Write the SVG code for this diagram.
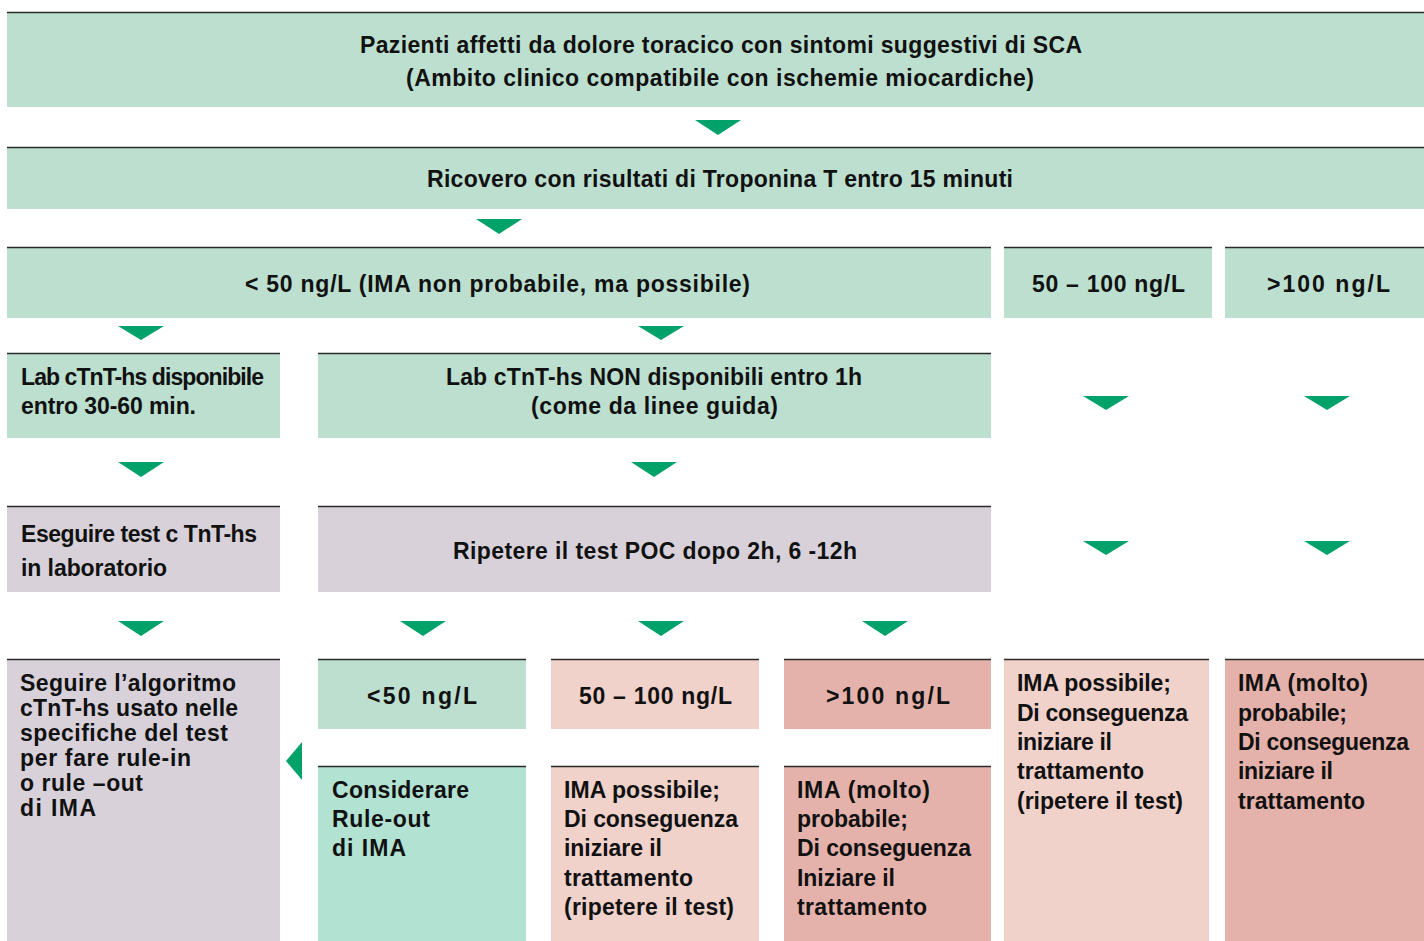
<svg xmlns="http://www.w3.org/2000/svg" width="1424" height="941" viewBox="0 0 1424 941">
<style>
.g{fill:#bcdfcf}.m{fill:#d8d1da}.c{fill:#b2e2d1}.p{fill:#f0d2cb}.r{fill:#e5b2ab}
.tl{stroke:#2a2a2a;stroke-width:1.6}
text{font-family:"Liberation Sans",Arial,sans-serif;font-weight:bold;font-size:23px;fill:#111}
.mid{text-anchor:middle}
.ar{fill:#00a26a}
</style>
<rect width="1424" height="941" fill="#fff"/>
<g id="n1"><rect class="g" x="7" y="12" width="1417" height="95"/><line class="tl" x1="7" y1="12.5" x2="1424" y2="12.5"/>
<text class="mid" x="721" y="53" textLength="722">Pazienti affetti da dolore toracico con sintomi suggestivi di SCA</text>
<text class="mid" x="720" y="86" textLength="628">(Ambito clinico compatibile con ischemie miocardiche)</text></g>
<g id="n2"><rect class="g" x="7" y="147" width="1417" height="62"/><line class="tl" x1="7" y1="147.5" x2="1424" y2="147.5"/>
<text class="mid" x="720" y="187" textLength="586">Ricovero con risultati di Troponina T entro 15 minuti</text></g>
<g id="n3"><rect class="g" x="7" y="247" width="984" height="71"/><line class="tl" x1="7" y1="247.5" x2="991" y2="247.5"/>
<text class="mid" x="497.5" y="292" textLength="505">&lt; 50 ng/L (IMA non probabile, ma possibile)</text></g>
<g id="n4"><rect class="g" x="1004" y="247" width="208" height="71"/><line class="tl" x1="1004" y1="247.5" x2="1212" y2="247.5"/>
<text class="mid" x="1108.5" y="292" textLength="153">50 – 100 ng/L</text></g>
<g id="n5"><rect class="g" x="1225" y="247" width="199" height="71"/><line class="tl" x1="1225" y1="247.5" x2="1424" y2="247.5"/>
<text class="mid" x="1328.5" y="292" textLength="123">&gt;100 ng/L</text></g>
<g id="n6"><rect class="g" x="7" y="353" width="273" height="85"/><line class="tl" x1="7" y1="353.5" x2="280" y2="353.5"/>
<text x="21" y="385" textLength="243">Lab cTnT-hs disponibile</text><text x="21" y="414" textLength="175">entro 30-60 min.</text></g>
<g id="n7"><rect class="g" x="318" y="353" width="673" height="85"/><line class="tl" x1="318" y1="353.5" x2="991" y2="353.5"/>
<text class="mid" x="654" y="385" textLength="416">Lab cTnT-hs NON disponibili entro 1h</text><text class="mid" x="654.5" y="414" textLength="247">(come da linee guida)</text></g>
<g id="n8"><rect class="m" x="7" y="506" width="273" height="86"/><line class="tl" x1="7" y1="506.5" x2="280" y2="506.5"/>
<text x="21" y="542" textLength="236">Eseguire test c TnT-hs</text><text x="21" y="576" textLength="146">in laboratorio</text></g>
<g id="n9"><rect class="m" x="318" y="506" width="673" height="86"/><line class="tl" x1="318" y1="506.5" x2="991" y2="506.5"/>
<text class="mid" x="655" y="559" textLength="404">Ripetere il test POC dopo 2h, 6 -12h</text></g>
<g id="n10"><rect class="m" x="7" y="659" width="273" height="282"/><line class="tl" x1="7" y1="659.5" x2="280" y2="659.5"/>
<text x="20" y="691" textLength="216">Seguire l’algoritmo</text><text x="20" y="716" textLength="218">cTnT-hs usato nelle</text><text x="20" y="741" textLength="208">specifiche del test</text><text x="20" y="766" textLength="171">per fare rule-in</text><text x="20" y="791" textLength="123">o rule –out</text><text x="20" y="816" textLength="76">di IMA</text></g>
<g id="n11"><rect class="g" x="318" y="659" width="208" height="70"/><line class="tl" x1="318" y1="659.5" x2="526" y2="659.5"/>
<text class="mid" x="422" y="704" textLength="110">&lt;50 ng/L</text></g>
<g id="n12"><rect class="p" x="551" y="659" width="208" height="70"/><line class="tl" x1="551" y1="659.5" x2="759" y2="659.5"/>
<text class="mid" x="655.5" y="704" textLength="153">50 – 100 ng/L</text></g>
<g id="n13"><rect class="r" x="784" y="659" width="207" height="70"/><line class="tl" x1="784" y1="659.5" x2="991" y2="659.5"/>
<text class="mid" x="888" y="704" textLength="124">&gt;100 ng/L</text></g>
<g id="n14"><rect class="c" x="318" y="766" width="208" height="175"/><line class="tl" x1="318" y1="766.5" x2="526" y2="766.5"/>
<text x="332" y="798" textLength="137">Considerare</text><text x="332" y="827" textLength="98">Rule-out</text><text x="332" y="856" textLength="74">di IMA</text></g>
<g id="n15"><rect class="p" x="551" y="766" width="208" height="175"/><line class="tl" x1="551" y1="766.5" x2="759" y2="766.5"/>
<text x="564" y="798" textLength="156">IMA possibile;</text><text x="564" y="827" textLength="174">Di conseguenza</text><text x="564" y="856" textLength="98">iniziare il</text><text x="564" y="886" textLength="129">trattamento</text><text x="564" y="915" textLength="170">(ripetere il test)</text></g>
<g id="n16"><rect class="r" x="784" y="766" width="207" height="175"/><line class="tl" x1="784" y1="766.5" x2="991" y2="766.5"/>
<text x="797" y="798" textLength="133">IMA (molto)</text><text x="797" y="827" textLength="111">probabile;</text><text x="797" y="856" textLength="174">Di conseguenza</text><text x="797" y="886" textLength="98">Iniziare il</text><text x="797" y="915" textLength="130">trattamento</text></g>
<g id="n17"><rect class="p" x="1004" y="659" width="205" height="282"/><line class="tl" x1="1004" y1="659.5" x2="1209" y2="659.5"/>
<text x="1017" y="691" textLength="154">IMA possibile;</text><text x="1017" y="721" textLength="171">Di conseguenza</text><text x="1017" y="750" textLength="95">iniziare il</text><text x="1017" y="779" textLength="127">trattamento</text><text x="1017" y="809" textLength="166">(ripetere il test)</text></g>
<g id="n18"><rect class="r" x="1225" y="659" width="199" height="282"/><line class="tl" x1="1225" y1="659.5" x2="1424" y2="659.5"/>
<text x="1238" y="691" textLength="130">IMA (molto)</text><text x="1238" y="721" textLength="109">probabile;</text><text x="1238" y="750" textLength="171">Di conseguenza</text><text x="1238" y="779" textLength="95">iniziare il</text><text x="1238" y="809" textLength="127">trattamento</text></g>
<g id="connectors" class="ar">
<polygon points="695,120 741,120 718,135"/>
<polygon points="476,219 522,219 499,234"/>
<polygon points="118,326 164,326 141,340"/>
<polygon points="638,326 684,326 661,340"/>
<polygon points="118,462 164,462 141,477"/>
<polygon points="631,462 677,462 654,477"/>
<polygon points="1083,396 1129,396 1106,410"/>
<polygon points="1304,396 1350,396 1327,410"/>
<polygon points="1083,541 1129,541 1106,555"/>
<polygon points="1304,541 1350,541 1327,555"/>
<polygon points="118,621 164,621 141,636"/>
<polygon points="400,621 446,621 423,636"/>
<polygon points="638,621 684,621 661,636"/>
<polygon points="862,621 908,621 885,636"/>
<polygon points="302,742 302,780 286,761"/>
</g>
</svg>
